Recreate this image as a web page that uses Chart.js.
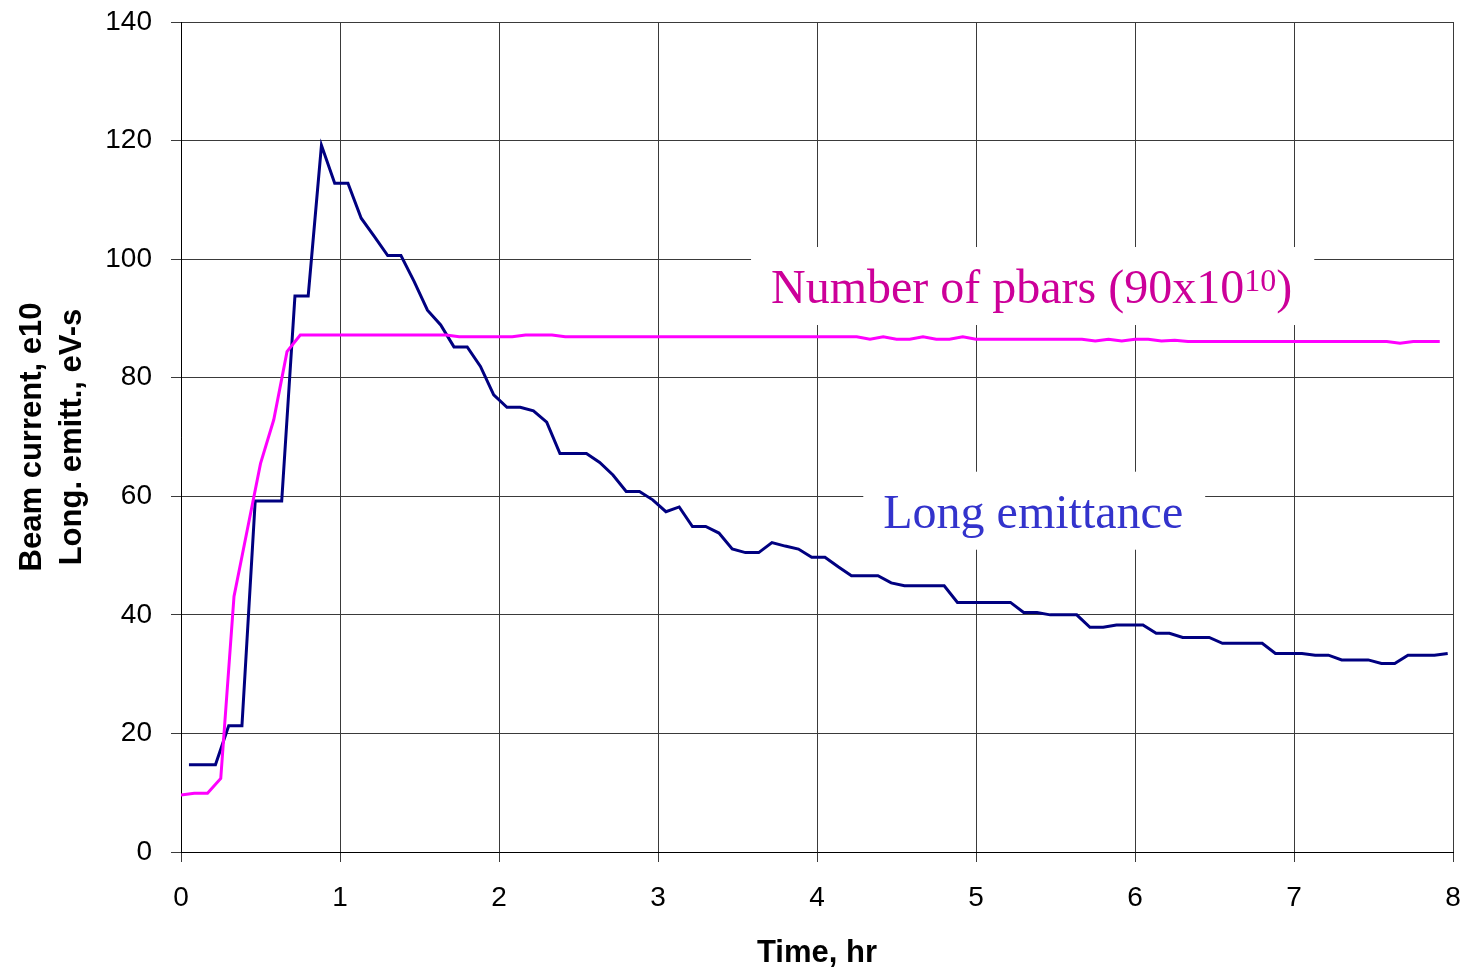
<!DOCTYPE html>
<html>
<head>
<meta charset="utf-8">
<title>Beam current and longitudinal emittance</title>
<script src="https://cdn.jsdelivr.net/npm/chart.js@4.4.1/dist/chart.umd.min.js"></script>
<style>
  html, body { margin: 0; padding: 0; background: #fff; }
  #wrap { width: 1467px; height: 969px; }
</style>
</head>
<body>
<div id="wrap"><canvas id="beamChart" width="1467" height="969"></canvas></div>
<script>
// Sample times in minutes (pbar count logged every 5 min, emittance 3 min later)
const pbarTimeMin = [
  0, 5, 10, 15, 20, 25, 30, 35, 40, 45, 50, 55, 60, 65, 70, 75, 80, 85, 90, 95,
  100, 105, 110, 115, 120, 125, 130, 135, 140, 145, 150, 155, 160, 165, 170, 175, 180, 185, 190, 195,
  200, 205, 210, 215, 220, 225, 230, 235, 240, 245, 250, 255, 260, 265, 270, 275, 280, 285, 290, 295,
  300, 305, 310, 315, 320, 325, 330, 335, 340, 345, 350, 355, 360, 365, 370, 375, 380, 385, 390, 395,
  400, 405, 410, 415, 420, 425, 430, 435, 440, 445, 450, 455, 460, 465, 470, 475
];
const emitTimeMin = [
  3, 8, 13, 18, 23, 28, 33, 38, 43, 48, 53, 58, 63, 68, 73, 78, 83, 88, 93, 98,
  103, 108, 113, 118, 123, 128, 133, 138, 143, 148, 153, 158, 163, 168, 173, 178, 183, 188, 193, 198,
  203, 208, 213, 218, 223, 228, 233, 238, 243, 248, 253, 258, 263, 268, 273, 278, 283, 288, 293, 298,
  303, 308, 313, 318, 323, 328, 333, 338, 343, 348, 353, 358, 363, 368, 373, 378, 383, 388, 393, 398,
  403, 408, 413, 418, 423, 428, 433, 438, 443, 448, 453, 458, 463, 468, 473, 478
];

// Beam current, e10
const pbarCount = [
  9.6, 9.9, 9.9, 12.4, 43.1, 54.3, 65.5, 72.9, 84.4, 87.2,
  87.2, 87.2, 87.2, 87.2, 87.2, 87.2, 87.2, 87.2, 87.2, 87.2, 87.2,
  86.9, 86.9, 86.9, 86.9, 86.9, 87.2, 87.2, 87.2,
  86.9, 86.9, 86.9, 86.9, 86.9, 86.9, 86.9, 86.9, 86.9, 86.9, 86.9,
  86.9, 86.9, 86.9, 86.9, 86.9, 86.9, 86.9, 86.9, 86.9, 86.9, 86.9, 86.9,
  86.5, 86.9, 86.5, 86.5, 86.9, 86.5, 86.5, 86.9, 86.5,
  86.5, 86.5, 86.5, 86.5, 86.5, 86.5, 86.5, 86.5,
  86.2, 86.5, 86.2, 86.5, 86.5, 86.2, 86.3,
  86.1, 86.1, 86.1, 86.1, 86.1, 86.1, 86.1, 86.1, 86.1, 86.1, 86.1, 86.1, 86.1, 86.1, 86.1, 86.1,
  85.8, 86.1, 86.1, 86.1, 85.8
];

// Longitudinal emittance, eV-s
const longEmittance = [
  14.7, 14.7, 14.7, 21.3, 21.3, 59.2, 59.2, 59.2, 93.8, 93.8,
  119.2, 112.8, 112.8, 106.9, 103.8, 100.6, 100.6, 96.2, 91.4, 88.9,
  85.2, 85.2, 81.9, 77.1, 75.0, 75.0, 74.4, 72.5, 67.2, 67.2,
  67.2, 65.7, 63.6, 60.8, 60.8, 59.4, 57.4, 58.2, 54.9, 54.9,
  53.8, 51.1, 50.5, 50.5, 52.2, 51.6, 51.1, 49.7, 49.7, 48.1,
  46.6, 46.6, 46.6, 45.4, 44.9, 44.9, 44.9, 44.9, 42.1, 42.1,
  42.1, 42.1, 42.1, 40.4, 40.4, 40.0, 40.0, 40.0, 37.9, 37.9,
  38.3, 38.3, 38.3, 36.9, 36.9, 36.2, 36.2, 36.2, 35.2, 35.2,
  35.2, 35.2, 33.5, 33.5, 33.5, 33.2, 33.2, 32.4, 32.4, 32.4,
  31.8, 31.8, 33.2, 33.2, 33.2, 33.5
];

const xTickLabels = ['0', '1', '2', '3', '4', '5', '6', '7', '8'];
const yTickLabels = ['0', '20', '40', '60', '80', '100', '120', '140'];

const toPoints = (mins, vals) => mins.map((m, i) => ({ x: m / 60, y: vals[i] }));

// In-plot labels: anchor is the text centre (x, hr) and baseline (y)
const notes = [
  {
    at: { x: 5.35, y: 92.6 },
    color: '#CC0099',
    parts: [
      { text: 'Number of pbars (90x10', size: 48, rise: 0 },
      { text: '10', size: 32, rise: 12 },
      { text: ')', size: 48, rise: 0 }
    ]
  },
  {
    at: { x: 5.36, y: 54.7 },
    color: '#3333CC',
    parts: [{ text: 'Long emittance', size: 48, rise: 0 }]
  }
];

const serif = '"Liberation Serif", "Times New Roman", Times, serif';

function layoutNote(ctx, chart, note) {
  const cx = chart.scales.x.getPixelForValue(note.at.x);
  const base = chart.scales.y.getPixelForValue(note.at.y);
  let w = 0;
  const widths = note.parts.map(p => {
    ctx.font = p.size + 'px ' + serif;
    const pw = ctx.measureText(p.text).width;
    w += pw;
    return pw;
  });
  return { left: cx - w / 2, right: cx + w / 2, base, widths };
}

const notePlugin = {
  id: 'notePlugin',
  beforeDatasetsDraw(chart) {
    const ctx = chart.ctx;
    ctx.save();
    notes.forEach(n => {
      const box = layoutNote(ctx, chart, n);
      ctx.fillStyle = '#ffffff';
      ctx.fillRect(box.left - 20, box.base - 56, box.right - box.left + 42, 78);
    });
    ctx.restore();
  },
  afterDatasetsDraw(chart) {
    const ctx = chart.ctx;
    ctx.save();
    ctx.textBaseline = 'alphabetic';
    ctx.textAlign = 'left';
    notes.forEach(n => {
      const box = layoutNote(ctx, chart, n);
      let x = box.left;
      n.parts.forEach((p, i) => {
        ctx.font = p.size + 'px ' + serif;
        ctx.fillStyle = n.color;
        ctx.fillText(p.text, x, box.base - p.rise);
        x += box.widths[i];
      });
    });
    ctx.restore();
  }
};

const sans = '"Liberation Sans", Arial, Helvetica, sans-serif';

const ctx = document.getElementById('beamChart').getContext('2d');
const beamChart = new Chart(ctx, {
  type: 'line',
  data: {
    datasets: [
      {
        label: 'Number of pbars',
        data: toPoints(pbarTimeMin, pbarCount),
        borderColor: '#FF00FF',
        borderWidth: 3,
        pointRadius: 0,
        tension: 0,
        fill: false
      },
      {
        label: 'Long emittance',
        data: toPoints(emitTimeMin, longEmittance),
        borderColor: '#000080',
        borderWidth: 3,
        pointRadius: 0,
        tension: 0,
        fill: false
      }
    ]
  },
  options: {
    responsive: false,
    animation: false,
    devicePixelRatio: 1,
    layout: { padding: { top: 22, right: 14, left: 0, bottom: 0 } },
    plugins: {
      legend: { display: false },
      tooltip: { enabled: false }
    },
    scales: {
      x: {
        type: 'linear',
        min: 0,
        max: 8,
        // fixed band below the plot; labels may overhang the edges
        afterFit: scale => {
          scale.height = 117;
          scale.paddingLeft = 0;
          scale.paddingRight = 0;
        },
        afterBuildTicks: scale => {
          scale.ticks = xTickLabels.map(v => ({ value: Number(v) }));
        },
        ticks: {
          stepSize: 1,
          color: '#000',
          padding: 19,
          maxRotation: 0,
          font: { family: sans, size: 28 },
          callback: (v, i) => xTickLabels[i]
        },
        grid: { color: '#3a3a3a', lineWidth: 1, tickLength: 10, drawTicks: true },
        border: { color: '#000', width: 1 },
        title: {
          display: true,
          text: 'Time, hr',
          color: '#000',
          font: { family: sans, size: 31, weight: 'bold', lineHeight: 1.0 },
          padding: { top: 0, bottom: 0 }
        }
      },
      y: {
        type: 'linear',
        min: 0,
        max: 140,
        afterFit: scale => {
          scale.width = 181;
          scale.paddingTop = 0;
          scale.paddingBottom = 0;
        },
        afterBuildTicks: scale => {
          scale.ticks = yTickLabels.map(v => ({ value: Number(v) }));
        },
        ticks: {
          stepSize: 20,
          color: '#000',
          padding: 19,
          font: { family: sans, size: 28 },
          callback: (v, i) => yTickLabels[i]
        },
        grid: { color: '#3a3a3a', lineWidth: 1, tickLength: 10, drawTicks: true },
        border: { color: '#000', width: 1 },
        title: {
          display: true,
          text: ['Beam current, e10', 'Long. emitt., eV-s'],
          color: '#000',
          font: { family: sans, size: 31, weight: 'bold', lineHeight: 1.27 },
          padding: { top: 13, bottom: 0 }
        }
      }
    }
  },
  plugins: [notePlugin]
});
</script>
</body>
</html>
